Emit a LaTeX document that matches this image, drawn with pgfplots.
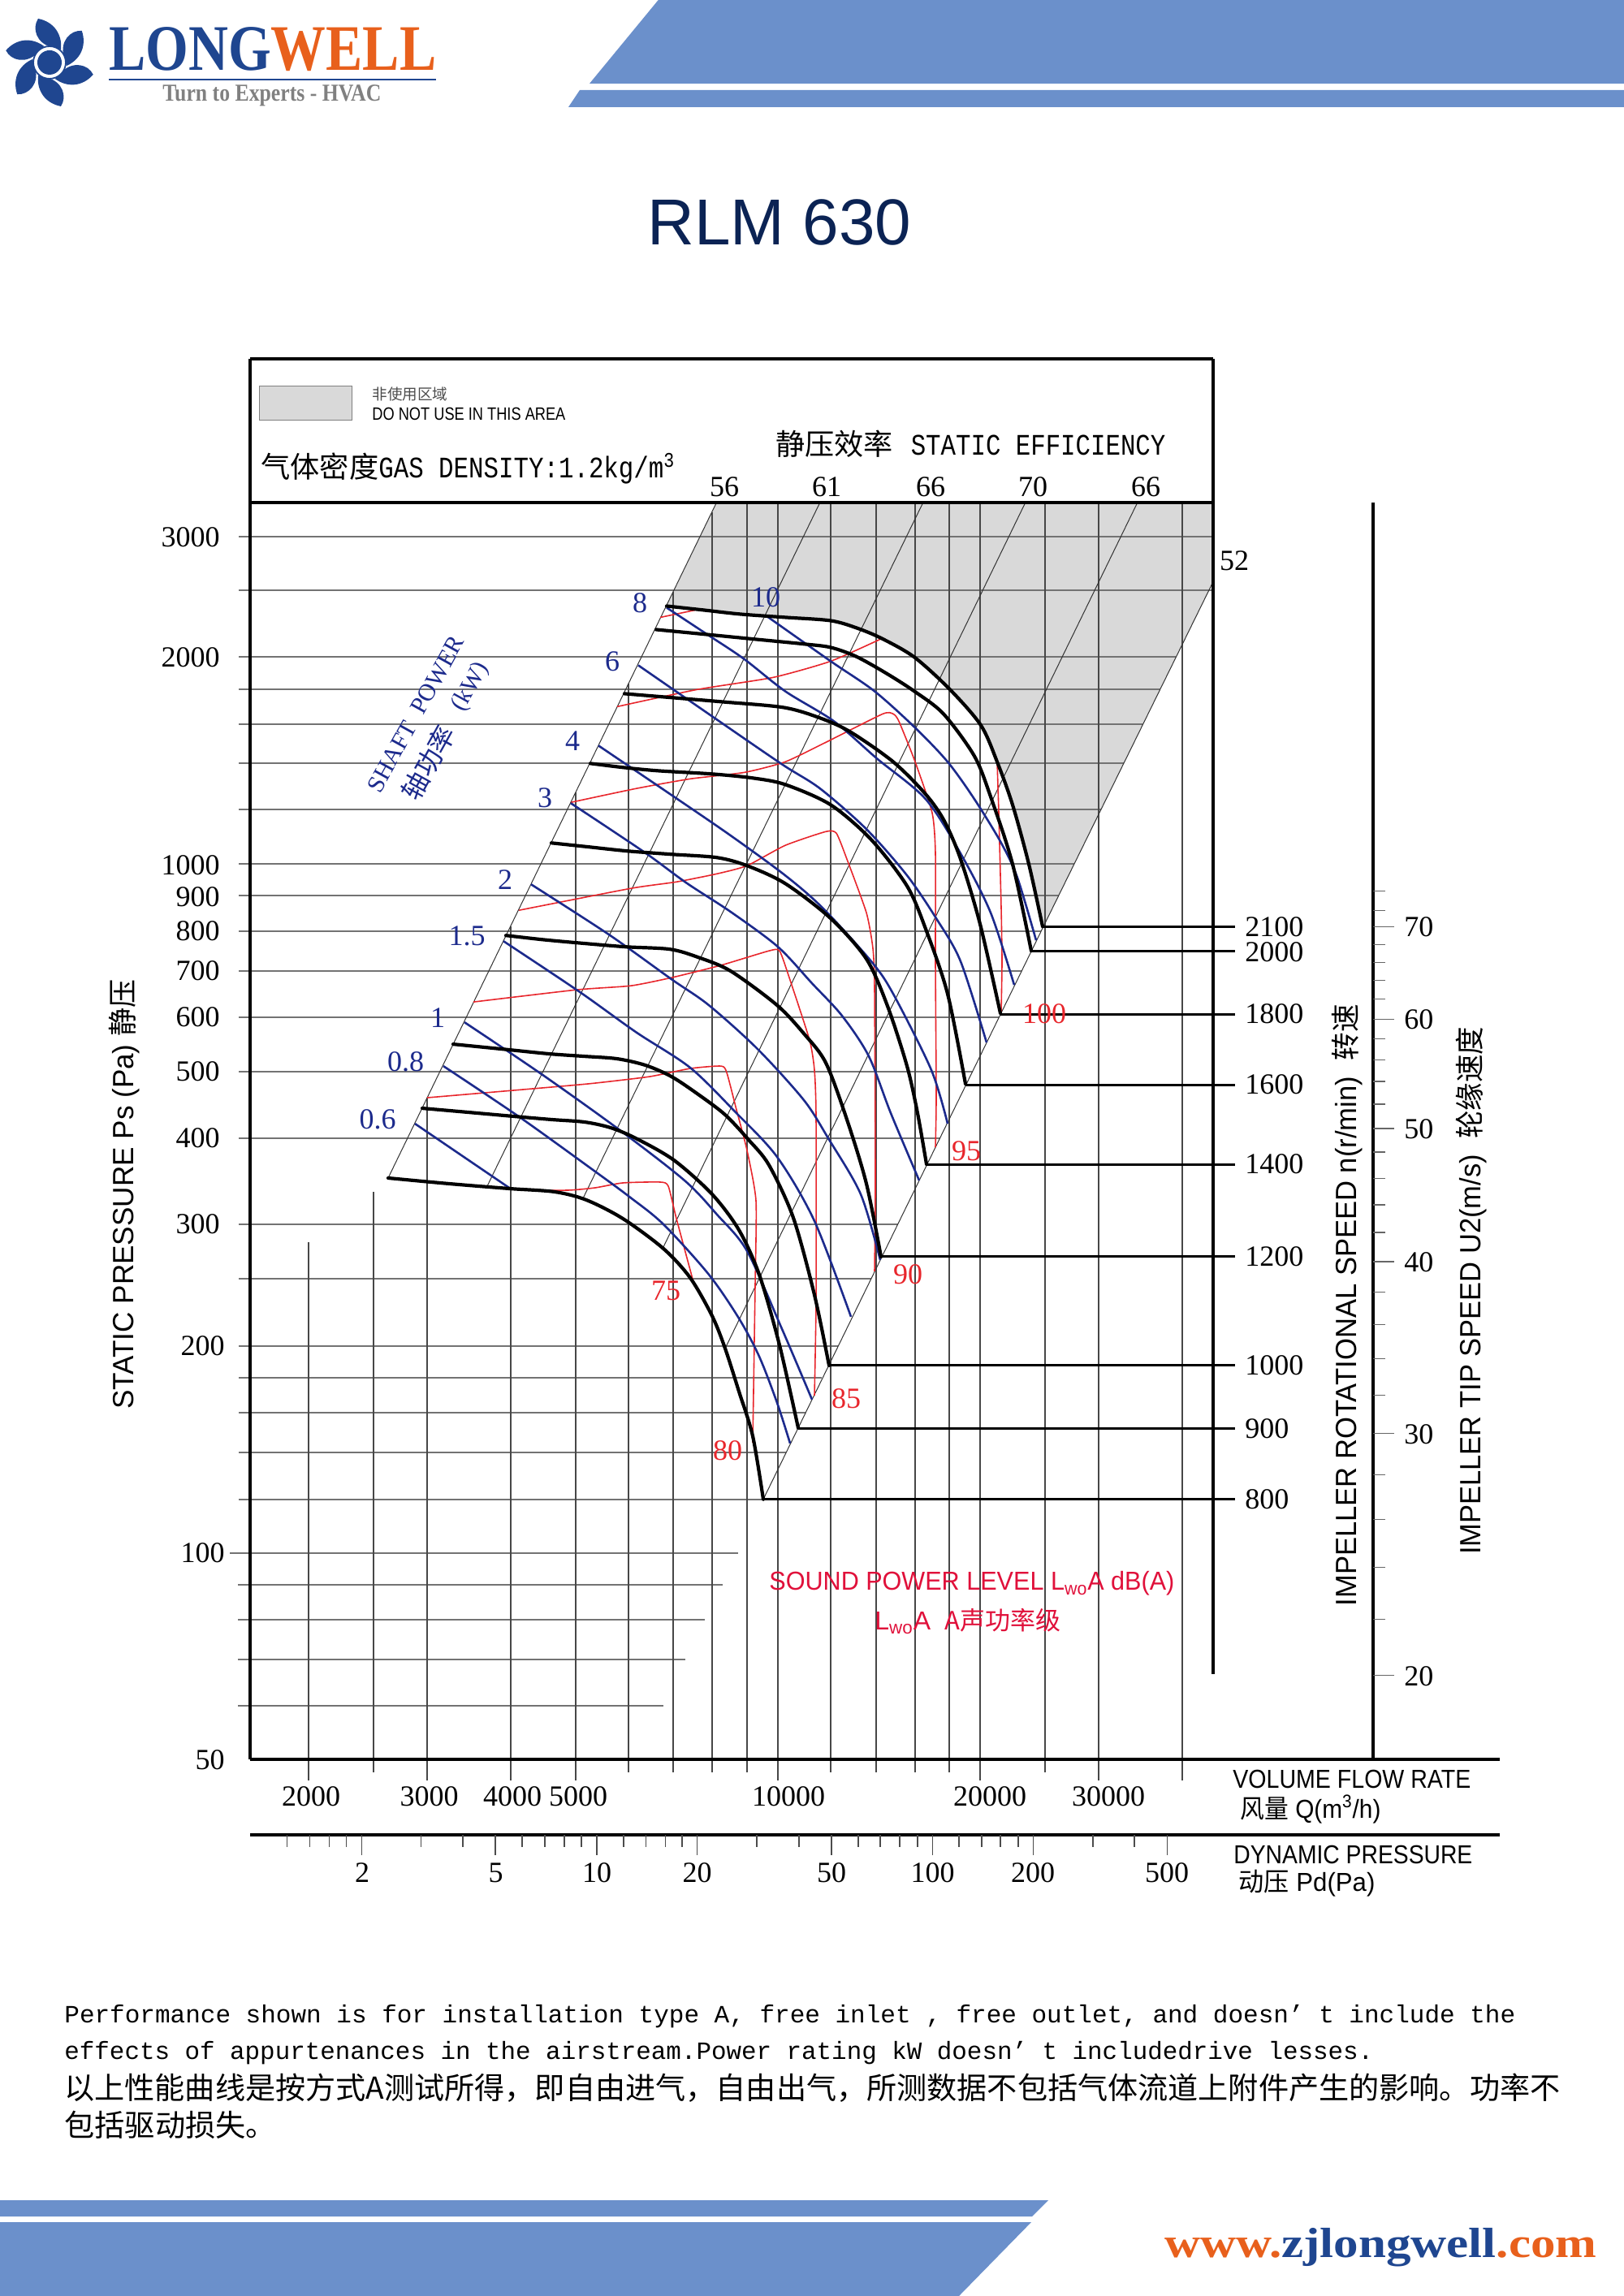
\documentclass[border=0pt]{standalone}
\usepackage{pgfplots}
\pgfplotsset{compat=1.18}
\usepackage{graphicx}
\usepackage{fontspec}
\setmainfont{Liberation Sans}
\newfontfamily\ser{Liberation Serif}
\newfontfamily\mono{Liberation Mono}
\newfontfamily\cjk{Noto Sans CJK SC}
\definecolor{hdr}{HTML}{6B90CB}
\definecolor{lblue}{HTML}{1F4690}
\definecolor{lor}{HTML}{E8601C}
\definecolor{cblue}{HTML}{1C2A8C}
\definecolor{cred}{HTML}{E8262C}
\definecolor{sred}{HTML}{E0103A}
\definecolor{area}{HTML}{D9D9D9}
\definecolor{navy}{HTML}{0B2354}
\newcommand{\sz}[1]{\fontsize{#1}{#1}\selectfont}
\newcommand{\fw}[2]{\resizebox{#1pt}{\height}{#2}}
\newcommand{\tall}[1]{\scalebox{1}[1.2]{#1}}
\newcommand{\T}[4][]{\node[inner sep=0pt,#1] at (#2,#3) {#4};}
\newcommand{\hl}[3]{\addplot[color=black!55,line width=1pt] coordinates {(#2,#1)(#3,#1)};}
\newcommand{\vl}[3]{\addplot[color=black!72,line width=0.65pt] coordinates {(#1,#2)(#1,#3)};}
\newcommand{\ray}[4]{\addplot[color=black!80,line width=0.5pt] coordinates {(#1,#2)(#3,#4)};}
\newcommand{\ptk}[2]{\addplot[color=black!70,line width=0.6pt] coordinates {(#1,2260)(#1,#2)};}
\newcommand{\utk}[2]{\addplot[color=black!60,line width=0.6pt] coordinates {(1691,#1)(#2,#1)};}
\newcommand{\nl}[2]{\addplot[black,line width=1.5pt] coordinates {(#2,#1)(1521,#1)};}
\newcommand{\fr}[4]{\addplot[black,line width=2pt] coordinates {(#1,#2)(#3,#4)};}
\pgfplotsset{
  blk/.style={black,line width=2.1pt,smooth,tension=0.5,line cap=round},
  blu/.style={cblue,line width=1.3pt,smooth,tension=0.5},
  rd/.style={cred,line width=0.8pt,smooth,tension=0.35},
}
\begin{document}
\begin{tikzpicture}
\useasboundingbox (0,0) rectangle (1000pt,1414pt);
\begin{axis}[at={(0,0)},anchor=south west,scale only axis,width=1000pt,height=1414pt,
  xmin=0,xmax=2000,ymin=-2,ymax=2828,y dir=reverse,hide axis,clip=false]
% header and footer bands
\addplot[draw=none,fill=hdr] coordinates {(814,-6)(2000,-6)(2000,101)(726,101)} -- cycle;
\addplot[draw=none,fill=hdr] coordinates {(714,109)(2000,109)(2000,130)(700,130)} -- cycle;
\addplot[draw=none,fill=hdr] coordinates {(0,2710)(1291,2710)(1271,2730)(0,2730)} -- cycle;
\addplot[draw=none,fill=hdr] coordinates {(0,2737)(1270,2737)(1181,2828)(0,2828)} -- cycle;
% logo text
\T[anchor=west]{134}{59}{\fw{201.5}{\ser\bfseries\sz{40}\textcolor{lblue}{LONG}\textcolor{lor}{WELL}}}
\addplot[lblue,line width=1pt] coordinates {(134,96)(537,96)};
\T[anchor=west]{200}{116}{\fw{134.5}{\ser\bfseries\sz{15}\textcolor{black!50}{Turn to Experts - HVAC}}}
% title
\T{960}{272}{\sz{40}\textcolor{navy}{RLM 630}}
% do-not-use area
\addplot[draw=black!50,line width=0.5pt,fill=area] coordinates {(319,474)(433,474)(433,516)(319,516)} -- cycle;
\addplot[draw=none,fill=area] coordinates {(882.6,617)(1494,617)(1494,715)(1285,1140)(1267,1063)(1247,990)(1228,937)(1208,892)(1170,848)(1126,808)(1086,785)(1023,763)(912,755)(821,745)} -- cycle;
% horizontal static pressure grid
\hl{659}{294}{1494}\hl{726}{294}{1492}\hl{808}{294}{1448}\hl{848}{294}{1429}\hl{891}{294}{1407}
\hl{939}{294}{1384}\hl{996}{294}{1356}\hl{1063}{294}{1323}\hl{1102}{294}{1304}\hl{1146}{294}{1282}
\hl{1195}{294}{1258}\hl{1252}{294}{1230}\hl{1319}{294}{1198}\hl{1401}{294}{1158}\hl{1507}{294}{1106}
\hl{1574}{294}{1073}\hl{1657}{294}{1032}\hl{1696}{294}{1012}\hl{1739}{294}{992}\hl{1788}{294}{968}
\hl{1846}{294}{940}\hl{1912}{283}{909}\hl{1951}{293}{890}\hl{1994}{293}{868}\hl{2043}{293}{844}\hl{2100}{293}{817}
% vertical flow grid
\vl{380}{1529}{2193}\vl{460}{1467}{2183}\vl{526}{1351}{2193}\vl{629}{1140}{2193}\vl{709}{975}{2193}
\vl{774}{841}{2183}\vl{829}{728}{2183}\vl{877}{629}{2183}\vl{920}{617}{2183}\vl{958}{617}{2193}
\vl{1023}{617}{2183}\vl{1079}{617}{2183}\vl{1127}{617}{2183}\vl{1169}{617}{2183}\vl{1207}{617}{2193}
\vl{1287}{617}{2183}\vl{1353}{617}{2193}\vl{1456}{617}{2193}
% efficiency rays
\ray{882.6}{617}{478}{1450}\ray{1010}{617}{600}{1460}\ray{1137}{617}{718}{1475}\ray{1263}{617}{817}{1535}
\ray{1401}{617}{894}{1658}\ray{1494}{715}{1285}{1140}\ray{1285}{1140}{940}{1846}
% sound power curves
\addplot[rd] coordinates {(643,1465)(700,1465)(733,1462)(767,1456)(813,1455)(823,1460)(833,1500)(855,1582)};
\addplot[rd] coordinates {(526,1351)(690,1337)(733,1333)(800,1325)(850,1315)(888,1312)(895,1320)(907,1366)(920,1416)(931,1478)(930,1582)(927,1776)};
\addplot[rd] coordinates {(583,1233)(710,1218)(777,1213)(827,1203)(887,1188)(947,1170)(960,1170)(972,1203)(997,1280)(1003,1317)(1005,1374)(1005,1602)(1003,1718)};
\addplot[rd] coordinates {(639,1120)(777,1093)(833,1085)(883,1075)(920,1065)(967,1040)(1017,1023)(1030,1025)(1043,1057)(1067,1123)(1075,1167)(1077,1217)(1078,1457)(1077,1565)};
\addplot[rd] coordinates {(703,987)(783,970)(850,958)(917,950)(967,937)(1017,913)(1087,878)(1100,878)(1107,887)(1127,937)(1148,1000)(1152,1050)(1152,1183)(1153,1350)(1152,1412)};
\addplot[rd] coordinates {(760,869)(858,848)(952,833)(1023,813)(1086,785)};
\addplot[rd] coordinates {(1228,937)(1230,1000)(1233,1117)(1234,1183)(1233,1245)};
\addplot[rd] coordinates {(813,759)(856,750)};
% shaft power curves
\addplot[blu] coordinates {(511,1383)(627,1462)};
\addplot[blu] coordinates {(546,1312)(640,1375)(733,1442)(775,1473)(817,1507)(873,1569)(910,1623)(935,1670)(957,1727)(973,1777)};
\addplot[blu] coordinates {(572,1258)(667,1322)(762,1390)(843,1453)(883,1495)(920,1540)(963,1636)(1000,1723)};
\addplot[blu] coordinates {(620,1158)(713,1220)(783,1270)(850,1314)(905,1368)(957,1424)(1003,1503)(1048,1621)};
\addplot[blu] coordinates {(654,1088)(750,1150)(827,1205)(873,1237)(933,1291)(990,1354)(1020,1401)(1060,1470)(1084,1551)};
\addplot[blu] coordinates {(703,988)(793,1048)(845,1086)(900,1122)(958,1165)(1000,1210)(1037,1250)(1070,1300)(1097,1370)(1132,1453)};
\addplot[blu] coordinates {(737,917)(830,980)(900,1028)(967,1077)(1013,1117)(1073,1183)(1100,1223)(1147,1317)(1167,1383)};
\addplot[blu] coordinates {(786,818)(880,883)(963,940)(1010,970)(1067,1020)(1117,1077)(1153,1130)(1183,1183)(1215,1283)};
\addplot[blu] coordinates {(821,747)(871,780)(916,810)(967,850)(1027,887)(1080,933)(1140,983)(1183,1050)(1220,1123)(1249,1212)};
\addplot[blu] coordinates {(945,758)(1023,813)(1077,850)(1127,895)(1167,937)(1200,983)(1233,1037)(1253,1080)(1276,1157)};
% speed curves
\addplot[blk] coordinates {(478,1450)(553,1457)(627,1463)(683,1467)(722,1477)(767,1500)(817,1537)(850,1573)(877,1620)(893,1660)(910,1713)(927,1768)(940,1846)};
\addplot[blk] coordinates {(520,1364)(577,1369)(633,1374)(680,1378)(720,1381)(752,1388)(783,1401)(830,1428)(877,1470)(910,1514)(935,1569)(960,1656)(983,1758)};
\addplot[blk] coordinates {(558,1285)(618,1291)(677,1297)(720,1300)(760,1303)(795,1311)(827,1325)(860,1347)(893,1372)(922,1403)(947,1434)(977,1499)(1003,1594)(1021,1681)};
\addplot[blk] coordinates {(623,1151)(667,1156)(710,1160)(770,1165)(825,1168)(860,1178)(900,1195)(957,1237)(990,1272)(1017,1308)(1043,1378)(1067,1457)(1085,1547)};
\addplot[blk] coordinates {(679,1037)(726,1042)(773,1047)(827,1051)(883,1055)(920,1065)(967,1087)(1023,1130)(1067,1180)(1093,1238)(1117,1312)(1130,1370)(1141,1433)};
\addplot[blk] coordinates {(727,939)(768,944)(810,948)(877,952)(927,957)(967,965)(1023,990)(1073,1033)(1117,1090)(1140,1143)(1167,1223)(1189,1334)};
\addplot[blk] coordinates {(769,853)(829,858)(889,863)(965,870)(1010,883)(1047,900)(1100,937)(1140,977)(1163,1010)(1183,1057)(1207,1137)(1232,1247)};
\addplot[blk] coordinates {(808,774)(870,780)(931,786)(992,792)(1023,796)(1054,807)(1090,827)(1126,850)(1162,878)(1200,930)(1220,980)(1247,1063)(1270,1170)};
\addplot[blk] coordinates {(821,745)(867,750)(912,755)(968,759)(1023,763)(1055,772)(1086,785)(1126,808)(1170,848)(1208,892)(1228,937)(1247,990)(1267,1063)(1284,1140)};
% speed leader lines
\nl{1140}{1284}\nl{1170.5}{1270}\nl{1248}{1232}\nl{1335}{1189}\nl{1433}{1141}\nl{1547}{1085}\nl{1681}{1021}\nl{1759}{983}\nl{1846}{940}
% frame
\fr{308}{440}{1494}{440}\fr{308}{440}{308}{2167}\fr{1494}{440}{1494}{2061}\fr{308}{617}{1494}{617}
\fr{308}{2167}{1847}{2167}\fr{308}{2260}{1847}{2260}\fr{1691}{617}{1691}{2167}
% dynamic pressure ticks
\ptk{353.5}{2275}\ptk{381.6}{2275}\ptk{405.7}{2275}\ptk{426.4}{2275}\ptk{445.3}{2285}\ptk{518.8}{2275}\ptk{570}{2275}\ptk{610}{2285}
\ptk{643}{2275}\ptk{671}{2275}\ptk{695}{2275}\ptk{716}{2275}\ptk{735}{2285}\ptk{768}{2275}\ptk{795.5}{2275}\ptk{819.6}{2275}\ptk{840}{2275}\ptk{858.6}{2285}
\ptk{932}{2275}\ptk{984}{2275}\ptk{1024}{2285}\ptk{1057}{2275}\ptk{1084}{2275}\ptk{1108}{2275}\ptk{1130}{2275}\ptk{1148.6}{2285}
\ptk{1181}{2275}\ptk{1209}{2275}\ptk{1232}{2275}\ptk{1254}{2275}\ptk{1272.5}{2285}\ptk{1346}{2275}\ptk{1397}{2275}\ptk{1437.6}{2285}
% tip speed ticks
\utk{1096}{1706}\utk{1120}{1706}\utk{1140}{1717}\utk{1162}{1706}\utk{1184}{1706}\utk{1206}{1706}\utk{1229.5}{1706}\utk{1254}{1717}
\utk{1278}{1706}\utk{1304.5}{1706}\utk{1331}{1706}\utk{1359}{1706}\utk{1389}{1717}\utk{1418}{1706}\utk{1450.5}{1706}\utk{1483}{1706}\utk{1517}{1706}\utk{1553}{1717}
\utk{1590.5}{1706}\utk{1631}{1706}\utk{1673}{1706}\utk{1718}{1706}\utk{1765}{1717}\utk{1816}{1706}\utk{1871}{1706}\utk{1929.5}{1706}\utk{1994}{1706}\utk{2063}{1717}
% header-box text
\T[anchor=west]{458}{484}{\sz{9.3}\cjk\textcolor{black!70}{非使用区域}}
\T[anchor=west]{458}{508}{\fw{119}{\sz{11}DO NOT USE IN THIS AREA}}
\T[anchor=west]{321}{575}{\fw{255}{\sz{18}{\cjk 气体密度}\tall{\mono\sz{15.3}GAS DENSITY:1.2kg/m\textsuperscript{3}}}}
\T[anchor=west]{955}{545}{\fw{240}{\sz{18}{\cjk 静压效率}\hspace{0.6em}\tall{\mono\sz{15.3}STATIC EFFICIENCY}}}
\T{892}{598}{\ser\sz{18}56}\T{1018}{598}{\ser\sz{18}61}\T{1146}{598}{\ser\sz{18}66}\T{1272}{598}{\ser\sz{18}70}\T{1411}{598}{\ser\sz{18}66}\T{1520}{689}{\ser\sz{18}52}
% static pressure labels
\T[anchor=east]{271}{660}{\ser\sz{18}3000}\T[anchor=east]{271}{808}{\ser\sz{18}2000}\T[anchor=east]{271}{1064}{\ser\sz{18}1000}
\T[anchor=east]{271}{1103}{\ser\sz{18}900}\T[anchor=east]{271}{1146}{\ser\sz{18}800}\T[anchor=east]{271}{1195}{\ser\sz{18}700}
\T[anchor=east]{271}{1252}{\ser\sz{18}600}\T[anchor=east]{271}{1319}{\ser\sz{18}500}\T[anchor=east]{271}{1401}{\ser\sz{18}400}
\T[anchor=east]{271}{1507}{\ser\sz{18}300}\T[anchor=east]{277}{1657}{\ser\sz{18}200}\T[anchor=east]{277}{1912}{\ser\sz{18}100}\T[anchor=east]{277}{2167}{\ser\sz{18}50}
% flow labels
\T{383}{2212}{\ser\sz{18}2000}\T{528.6}{2212}{\ser\sz{18}3000}\T{631}{2212}{\ser\sz{18}4000}\T{712}{2212}{\ser\sz{18}5000}\T{971}{2212}{\ser\sz{18}10000}\T{1219}{2212}{\ser\sz{18}20000}\T{1365}{2212}{\ser\sz{18}30000}
% dynamic pressure labels
\T{446}{2306}{\ser\sz{18}2}\T{610.6}{2306}{\ser\sz{18}5}\T{735}{2306}{\ser\sz{18}10}\T{858.6}{2306}{\ser\sz{18}20}\T{1024}{2306}{\ser\sz{18}50}\T{1148.6}{2306}{\ser\sz{18}100}\T{1272}{2306}{\ser\sz{18}200}\T{1437}{2306}{\ser\sz{18}500}
% speed labels
\T[anchor=west]{1533}{1141}{\ser\sz{18}2100}\T[anchor=west]{1533}{1172}{\ser\sz{18}2000}\T[anchor=west]{1533}{1248}{\ser\sz{18}1800}
\T[anchor=west]{1533}{1335}{\ser\sz{18}1600}\T[anchor=west]{1533}{1433}{\ser\sz{18}1400}\T[anchor=west]{1533}{1547}{\ser\sz{18}1200}
\T[anchor=west]{1533}{1681}{\ser\sz{18}1000}\T[anchor=west]{1533}{1759}{\ser\sz{18}900}\T[anchor=west]{1533}{1846}{\ser\sz{18}800}
% tip speed labels
\T[anchor=west]{1729}{1141}{\ser\sz{18}70}\T[anchor=west]{1729}{1255}{\ser\sz{18}60}\T[anchor=west]{1729}{1390}{\ser\sz{18}50}\T[anchor=west]{1729}{1554}{\ser\sz{18}40}\T[anchor=west]{1729}{1766}{\ser\sz{18}30}\T[anchor=west]{1729}{2064}{\ser\sz{18}20}
% axis titles
\T[rotate=90]{153}{1470}{\fw{264.5}{\sz{18}STATIC PRESSURE Ps (Pa) {\cjk 静压}}}
\T[rotate=90]{1659}{1607}{\fw{370.5}{\sz{18}IMPELLER ROTATIONAL SPEED n(r/min) \ {\cjk 转速}}}
\T[rotate=90]{1812}{1589}{\fw{325}{\sz{18}IMPELLER TIP SPEED U2(m/s) \ {\cjk 轮缘速度}}}
\T[anchor=west]{1518}{2191}{\fw{146.5}{\sz{16}VOLUME FLOW RATE}}
\T[anchor=west]{1527}{2228}{\fw{86.5}{\sz{16}{\cjk 风量} Q(m\textsuperscript{3}/h)}}
\T[anchor=west]{1519}{2284}{\fw{147}{\sz{16}DYNAMIC PRESSURE}}
\T[anchor=west]{1525}{2319}{\fw{84}{\sz{16}{\cjk 动压} Pd(Pa)}}
% shaft power
\T[rotate=61]{512}{878}{\ser\sz{15}\textcolor{cblue}{SHAFT\ \ POWER}}
\T[rotate=61]{580}{845}{\ser\sz{15}\textcolor{cblue}{(kW)}}
\T[rotate=61]{527}{938}{\sz{16.5}\cjk\textcolor{cblue}{轴功率}}
\T{465}{1378}{\ser\sz{18}\textcolor{cblue}{0.6}}\T{499.5}{1307}{\ser\sz{18}\textcolor{cblue}{0.8}}\T{539}{1252}{\ser\sz{18}\textcolor{cblue}{1}}
\T{575}{1152}{\ser\sz{18}\textcolor{cblue}{1.5}}\T{622}{1082}{\ser\sz{18}\textcolor{cblue}{2}}\T{671}{981}{\ser\sz{18}\textcolor{cblue}{3}}
\T{705}{911}{\ser\sz{18}\textcolor{cblue}{4}}\T{754}{813}{\ser\sz{18}\textcolor{cblue}{6}}\T{788}{741}{\ser\sz{18}\textcolor{cblue}{8}}\T{943}{734}{\ser\sz{18}\textcolor{cblue}{10}}
% sound labels
\T{820}{1589}{\ser\sz{18}\textcolor{cred}{75}}\T{896}{1786}{\ser\sz{18}\textcolor{cred}{80}}\T{1042}{1722}{\ser\sz{18}\textcolor{cred}{85}}
\T{1118}{1569}{\ser\sz{18}\textcolor{cred}{90}}\T{1190}{1417}{\ser\sz{18}\textcolor{cred}{95}}\T{1286}{1248}{\ser\sz{18}\textcolor{cred}{100}}
\T[anchor=west]{947}{1950}{\fw{249.5}{\sz{16}\textcolor{sred}{SOUND POWER LEVEL L\textsubscript{wo}A dB(A)}}}
\T[anchor=west]{1077}{1996}{\sz{16}\textcolor{sred}{L\textsubscript{wo}A\ \ {\sz{15.5}\cjk A声功率级}}}
% notes
\T[anchor=west]{79}{2483}{\fw{893.5}{\mono\sz{15.3}Performance shown is for installation type A, free inlet , free outlet, and doesn’ t include the}}
\T[anchor=west]{79}{2528}{\fw{806}{\mono\sz{15.3}effects of appurtenances in the airstream.Power rating kW doesn’ t includedrive lesses.}}
\T[anchor=west]{79}{2572}{\fw{921}{\sz{18.6}\cjk 以上性能曲线是按方式A测试所得，即自由进气，自由出气，所测数据不包括气体流道上附件产生的影响。功率不}}
\T[anchor=west]{79}{2617}{\sz{18.6}\cjk 包括驱动损失。}
% url
\T[anchor=west]{1434}{2768}{\fw{266}{\ser\bfseries\sz{26}\textcolor{lor}{www.}\textcolor{lblue}{zjlongwell}\textcolor{lor}{.com}}}
\end{axis}
% fan emblem of the logo
\begin{scope}[shift={(30.5pt,1375.5pt)}]
\foreach \a in {0,60,...,300}{
  \fill[lblue,rotate=\a] (1pt,9.5pt) .. controls (-8pt,12pt) and (-11pt,21pt) .. (-7pt,27pt) .. controls (3pt,25pt) and (8pt,17pt) .. (7pt,8pt) -- cycle;
}
\fill[white] (0,0) circle (10pt);
\draw[lblue,line width=0.9pt] (0,0) circle (10pt);
\fill[lblue] (0,0) circle (7.5pt);
\end{scope}
\end{tikzpicture}
\end{document}
